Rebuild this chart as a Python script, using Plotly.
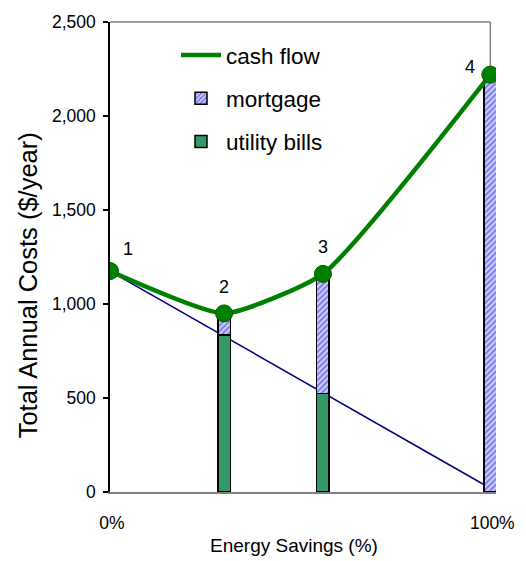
import plotly.graph_objects as go

# Energy savings scenarios (% of savings) and their annual costs ($/year)
savings_pct = [0, 30, 56, 100]
cash_flow = [1175, 950, 1160, 2220]
utility_bills = [1175, 835, 525, 0]
mortgage = [c - u for c, u in zip(cash_flow, utility_bills)]
point_labels = ["1", "2", "3", "4"]

# Utility bill trend line (declines as savings grow)
trend_x = [0, 100]
trend_y = [1175, 20]

# Axis ticks
y_ticks = [0, 500, 1000, 1500, 2000, 2500]
x_ticks = [0, 100]
x_tick_text = ["0%", "100%"]

FONT = "Arial, Liberation Sans, sans-serif"
GREEN = "#008000"
SEA_GREEN = "#339966"
NAVY = "#000080"

fig = go.Figure()

# Base subplot: trend line sits underneath the bars
fig.add_trace(go.Scatter(
    x=trend_x, y=trend_y, mode="lines",
    line=dict(color=NAVY, width=1.5),
    showlegend=False, hoverinfo="skip",
    xaxis="x", yaxis="y",
))

# Overlay subplot: stacked bars and cash-flow curve
bar_x = savings_pct[1:]
fig.add_trace(go.Bar(
    x=bar_x, y=utility_bills[1:], name="utility bills",
    width=3.3,
    marker=dict(color=SEA_GREEN, line=dict(color="black", width=1.5)),
    xaxis="x2", yaxis="y2", legendrank=3, legendgroup="u",
))
fig.add_trace(go.Bar(
    x=bar_x, y=mortgage[1:], name="mortgage",
    width=3.3,
    marker=dict(
        color="#dcdcff",
        line=dict(color="black", width=1.5),
        pattern=dict(shape="/", fgcolor="#2424e0", bgcolor="#dcdcff",
                     size=4, solidity=0.6),
    ),
    xaxis="x2", yaxis="y2", legendrank=2, legendgroup="m",
))
fig.add_trace(go.Scatter(
    x=savings_pct, y=cash_flow, name="cash flow",
    mode="lines",
    line=dict(color=GREEN, width=4.5, shape="spline", smoothing=0.5),
    xaxis="x2", yaxis="y2", legendrank=1, legendgroup="c",
))
fig.add_trace(go.Scatter(
    x=savings_pct, y=cash_flow, mode="markers",
    marker=dict(size=17, color=GREEN, line=dict(color="#005a00", width=1)),
    xaxis="x2", yaxis="y2", showlegend=False,
))

# Numbered point labels
offsets = [(18, 22), (0, 26), (0, 27), (-20, 8)]
for xv, yv, lab, (dx, dy) in zip(savings_pct, cash_flow, point_labels, offsets):
    fig.add_annotation(
        x=xv, y=yv, xref="x2", yref="y2", text=lab, showarrow=False,
        xshift=dx, yshift=dy, font=dict(family=FONT, size=18, color="black"),
    )

x_range = [0, 101.5]
y_range = [0, 2500]

fig.update_layout(
    width=526, height=561,
    margin=dict(l=110, r=13, t=13, b=69),
    paper_bgcolor="white", plot_bgcolor="white",
    barmode="stack",
    font=dict(family=FONT, size=17.5, color="black"),
    xaxis=dict(
        range=x_range, tickvals=x_ticks, ticktext=x_tick_text,
        showgrid=False, zeroline=False, ticks="",
        showline=True, linecolor="#808080", linewidth=1.5,
        ticklabelstandoff=14, ticklabeloverflow="allow", ticklabelshift=2,
        tickfont=dict(size=17.5),
    ),
    yaxis=dict(
        range=y_range, tickvals=y_ticks, tickformat=",",
        showgrid=False, zeroline=False,
        showline=True, linecolor="black", linewidth=1.5,
        ticks="outside", ticklen=5, tickwidth=1.5, tickcolor="black",
        ticklabelstandoff=4, tickfont=dict(size=17.5),
    ),
    xaxis2=dict(range=x_range, overlaying="x", anchor="y2", visible=False),
    yaxis2=dict(range=y_range, overlaying="y", anchor="x2", visible=False),
    legend=dict(
        x=0.171, y=0.975, xanchor="left", yanchor="top",
        bgcolor="rgba(0,0,0,0)", font=dict(size=22.5),
        traceorder="grouped", tracegroupgap=11, itemwidth=40,
    ),
    showlegend=True,
)

# Plot-area frame (top and right edges)
fig.add_shape(type="line", xref="x", yref="paper", x0=0, x1=100, y0=1, y1=1,
              line=dict(color="#808080", width=1.5), layer="below")
fig.add_shape(type="line", xref="x", yref="paper", x0=100, x1=100, y0=0, y1=1,
              line=dict(color="#808080", width=1.5), layer="below")

# Axis titles
fig.add_annotation(
    text="Total Annual Costs ($/year)", xref="paper", yref="paper",
    x=-0.212, y=0.44, textangle=-90, showarrow=False,
    xanchor="center", yanchor="middle",
    font=dict(family=FONT, size=25.5, color="black"),
)
fig.add_annotation(
    text="Energy Savings (%)", xref="paper", yref="paper",
    x=0.477, y=-0.113, showarrow=False, xanchor="center", yanchor="middle",
    font=dict(family=FONT, size=19, color="black"),
)

fig.write_html("out.html")
